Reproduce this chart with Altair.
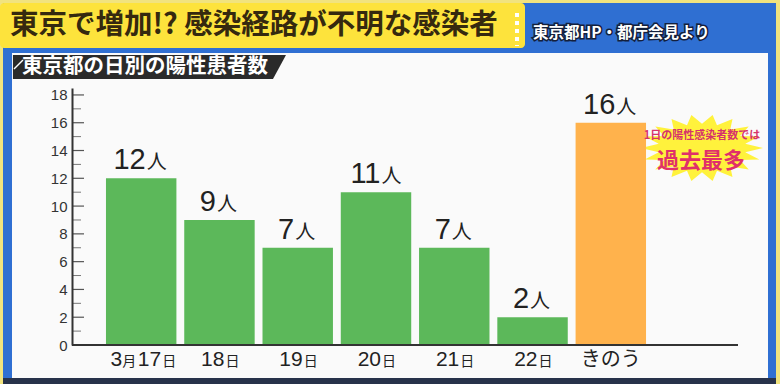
import re
import math
import altair as alt
import pandas as pd

# ---- data ----
categories = ["3月17日", "18日", "19日", "20日", "21日", "22日", "きのう"]
values = [12, 9, 7, 11, 7, 2, 16]
y_major = [0, 2, 4, 6, 8, 10, 12, 14, 16, 18]
y_minor = [1, 3, 5, 7, 9, 11, 13, 15, 17]
title_text = "東京で増加!? 感染経路が不明な感染者"
source_text = "東京都HP・都庁会見より"
subtitle_text = "東京都の日別の陽性患者数"
callout_line1 = "1日の陽性感染者数では"
callout_line2 = "過去最多"

# ---- layout (plot area) ----
PL, PT, W, H = 72, 88, 608, 257
GREEN, ORANGE = "#5cb85a", "#ffb24c"
JP = "Noto Sans CJK JP"
NUMF = "Liberation Sans"


def month_of(c):
    m = re.match(r"(\d+)月", c)
    return m.group(1) if m else ""


def day_of(c):
    m = re.search(r"(\d+)日$", c)
    return m.group(1) if m else ""


df = pd.DataFrame({
    "cat": categories,
    "value": values,
    "kind": ["過去" if c != "きのう" else "きのう" for c in categories],
    "month": [month_of(c) for c in categories],
    "day": [day_of(c) for c in categories],
})
df["num"] = df["value"].astype(str)
ticks_df = pd.DataFrame({"t": y_major + y_minor,
                         "major": [True] * len(y_major) + [False] * len(y_minor)})
dummy = pd.DataFrame({"d": [0]})

xs = alt.X("cat:N", sort=categories,
           scale=alt.Scale(paddingInner=0.1, paddingOuter=0.434), axis=None)
yscale = alt.Scale(domain=[0, 18.5], nice=False)
yaxis = alt.Axis(values=y_major, ticks=False, grid=False, labelPadding=5,
                 labelOverlap=False, labelFlush=False, labelBound=False,
                 labelFont=NUMF, labelFontSize=15, labelColor="#333",
                 domainColor="#333", domainWidth=2, title=None, zindex=2)


def Y(field):
    return alt.Y(field, scale=yscale, axis=yaxis)


def px(x):
    return alt.value(x - PL)


def py(y):
    return alt.value(y - PT)


def rect(x1, x2, y1, y2, color, **kw):
    return alt.Chart(dummy).mark_rect(color=color, **kw).encode(
        x=px(x1), x2=px(x2), y=py(y1), y2=py(y2))


# ---- decorations ----
deco = [
    rect(3, 776, 3, 384, "#2f6fd2"),
    rect(12, 768, 53, 378, "#fafafa"),
    rect(3, 776, 378, 384, "#27324a"),
    rect(0, 525, 3, 48, "#fde33c", cornerRadius=4),
    alt.Chart(dummy).mark_rule(color="white", strokeWidth=4, strokeDash=[4, 4]).encode(
        x=px(517), x2=px(517), y=py(13), y2=py(46)),
]

# parallelogram subtitle box via custom symbol path
half_w = 137.0
para_path = "M -0.993 -0.0876 L 1 -0.0876 L 0.905 0.0876 L -0.993 0.0876 Z"
deco.append(alt.Chart(dummy).mark_point(shape=para_path, filled=True, opacity=1,
                                        color="#2a2a2a", size=(2 * half_w) ** 2).encode(
    x=px(149), y=py(67)))
deco.append(alt.Chart(dummy).mark_rule(color="white", strokeWidth=1.5).encode(
    x=px(14), x2=px(23), y=py(69), y2=py(60)))

# starburst
pts = []
n = 18
for i in range(2 * n):
    a = math.pi * i / n
    r = 1.0 if i % 2 == 0 else 0.72
    pts.append((r * math.cos(a), 0.55 * r * math.sin(a)))
star_path = "M " + " L ".join(f"{x:.3f} {y:.3f}" for x, y in pts) + " Z"
deco.append(alt.Chart(dummy).mark_point(shape=star_path, filled=True, opacity=1,
                                        color="#fff23c", size=122 ** 2).encode(
    x=px(702), y=py(148)))

texts = [
    alt.Chart(dummy).mark_text(text=title_text, align="left", baseline="middle",
                               fontSize=28.5, font=JP, fontWeight="bold",
                               color="#35290f").encode(x=px(10), y=py(25)),
    alt.Chart(dummy).mark_text(text=source_text, align="left", baseline="middle",
                               fontSize=15.5, font=JP, fontWeight="bold",
                               stroke="#14203c", strokeWidth=3, color="#14203c").encode(x=px(533), y=py(33)),
    alt.Chart(dummy).mark_text(text=source_text, align="left", baseline="middle",
                               fontSize=15.5, font=JP, fontWeight="bold",
                               color="white").encode(x=px(533), y=py(33)),
    alt.Chart(dummy).mark_text(text=subtitle_text, align="left", baseline="middle",
                               fontSize=20.5, font=JP, fontWeight="bold",
                               color="white").encode(x=px(22), y=py(67)),
    alt.Chart(dummy).mark_text(text=callout_line1, align="center", baseline="middle",
                               fontSize=11, font=JP, fontWeight="bold",
                               color="#d6336b").encode(x=px(702), y=py(136)),
    alt.Chart(dummy).mark_text(text=callout_line2, align="center", baseline="middle",
                               fontSize=22, font=JP, fontWeight="bold",
                               color="#e0306a").encode(x=px(701), y=py(161)),
]

# ---- chart ----
base = alt.Chart(df)
bars = base.mark_bar().encode(
    x=xs,
    y=Y("value:Q"),
    color=alt.Color("kind:N", scale=alt.Scale(domain=["過去", "きのう"], range=[GREEN, ORANGE]),
                    legend=None),
)

tick_major = alt.Chart(ticks_df).transform_filter("datum.major").mark_rule(
    color="#555", strokeWidth=1.2).encode(
    x=alt.value(0), x2=alt.value(12), y=Y("t:Q"))
tick_minor = alt.Chart(ticks_df).transform_filter("!datum.major").mark_rule(
    color="#777", strokeWidth=1).encode(
    x=alt.value(0), x2=alt.value(9), y=Y("t:Q"))
baseline = alt.Chart(dummy).mark_rule(color="#333", strokeWidth=2).encode(
    x=alt.value(0), x2=alt.value(666), y=Y("datum_zero:Q")).transform_calculate(datum_zero="0")

LC = "#222"
two = base.transform_filter("datum.value >= 10")
one = base.transform_filter("datum.value < 10")
bar_labels = []
for sub, dxn in [(two, 4.5), (one, -3.5)]:
    bar_labels.append(sub.mark_text(align="right", baseline="alphabetic", dx=dxn, dy=-9,
                                    fontSize=29, font=NUMF, color=LC).encode(
        x=xs, y=Y("value:Q"), text="num:N"))
    bar_labels.append(sub.mark_text(text="人", align="left", baseline="alphabetic", dx=dxn + 1, dy=-9,
                                    fontSize=20, font=JP, color=LC).encode(
        x=xs, y=Y("value:Q")))

LY = alt.value(366 - PT)
plain = base.transform_filter("datum.month == '' && datum.day != ''")
withm = base.transform_filter("datum.month != ''")
word = base.transform_filter("datum.day == ''")
x_labels = [
    plain.mark_text(align="right", baseline="alphabetic", dx=5, fontSize=21, font=NUMF, color=LC).encode(
        x=xs, y=LY, text="day:N"),
    plain.mark_text(text="日", align="left", baseline="alphabetic", dx=6, fontSize=14, font=JP, color=LC).encode(
        x=xs, y=LY),
    withm.mark_text(align="right", baseline="alphabetic", dx=-19, fontSize=21, font=NUMF, color=LC).encode(
        x=xs, y=LY, text="month:N"),
    withm.mark_text(text="月", align="left", baseline="alphabetic", dx=-19, fontSize=14, font=JP, color=LC).encode(
        x=xs, y=LY),
    withm.mark_text(align="right", baseline="alphabetic", dx=20, fontSize=21, font=NUMF, color=LC).encode(
        x=xs, y=LY, text="day:N"),
    withm.mark_text(text="日", align="left", baseline="alphabetic", dx=21, fontSize=14, font=JP, color=LC).encode(
        x=xs, y=LY),
    word.mark_text(align="center", baseline="alphabetic", fontSize=20, font=JP, color=LC).encode(
        x=xs, y=LY, text="cat:N"),
]

chart = alt.layer(*deco, bars, tick_major, tick_minor, baseline, *bar_labels, *x_labels, *texts).properties(
    width=W, height=H,
    padding={"left": PL, "top": PT, "right": 780 - PL - W, "bottom": 384 - PT - H},
    autosize=alt.AutoSizeParams(type="none"),
    background="#f1e37e",
).configure_view(stroke=None)

chart.save("out.html", embed_options={"renderer": "svg", "actions": False})
